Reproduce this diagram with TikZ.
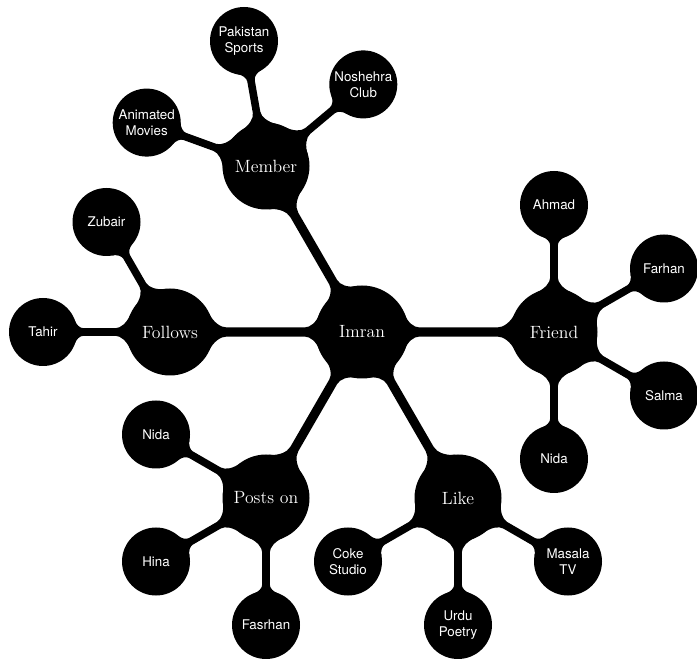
\documentclass[tikz,border=0pt]{standalone}
\usepackage{fontspec}
\newfontfamily\helv{TeX Gyre Heros}
\usetikzlibrary{calc,backgrounds}
\tikzset{
  conc/.style={circle, fill=black, text=white, inner sep=0pt, align=center},
  rootc/.style={conc, minimum size=69.75pt, font=\fontsize{13.3}{16}\selectfont},
  lonec/.style={conc, minimum size=65.25pt, font=\fontsize{13.3}{16}\selectfont},
  ltwoc/.style={conc, minimum size=51pt, font=\helv\fontsize{10}{11.8}\selectfont},
  barfill/.style={fill=black}
}
% connection bar with fillets (all lengths in pt):
% #1 from node, #2 r, #3 fillet angle, #4 fillet length; #5 to node, #6 r, #7 angle, #8 length; #9 half width
\newcommand\cbar[9]{%
  \path let \p1=(#1.center), \p2=(#5.center),
    \n1={atan2(\y2-\y1,\x2-\x1)}, \n2={veclen(\x2-\x1,\y2-\y1)} in
    \pgfextra{\xdef\cbang{\n1}\xdef\cblen{\n2}\xdef\cbx{\x1}\xdef\cby{\y1}};
  \begin{scope}[shift={(\cbx,\cby)}, rotate=\cbang, x=1pt, y=1pt]
    \pgfmathsetmacro\cbta{(#2*sin(#3)-#9)/cos(#3)}%
    \pgfmathsetmacro\cbca{0.6*\cbta}%
    \pgfmathsetmacro\cbda{0.6*(#2+#4-#2*cos(#3)-\cbta*sin(#3))}%
    \pgfmathsetmacro\cbtb{(#6*sin(#7)-#9)/cos(#7)}%
    \pgfmathsetmacro\cbcb{0.6*\cbtb}%
    \pgfmathsetmacro\cbdb{0.6*(#6+#8-#6*cos(#7)-\cbtb*sin(#7))}%
    \fill[barfill] (#3:#2) .. controls +({#3-90}:\cbca) and +(-\cbda,0) .. ({#2+#4},#9)
      -- ({\cblen-#6-#8},#9) .. controls +(\cbdb,0) and +({270-#7}:\cbcb) .. ([shift={(\cblen,0)}]{180-#7}:#6)
      -- ([shift={(\cblen,0)}]{180+#7}:#6) .. controls +({90+#7}:\cbcb) and +(\cbdb,0) .. ({\cblen-#6-#8},-#9)
      -- ({#2+#4},-#9) .. controls +(-\cbda,0) and +({90-#3}:\cbca) .. (-#3:#2) -- cycle;
  \end{scope}%
}
\newcommand\barone[2]{\cbar{#1}{34.6}{22}{8.5}{#2}{32.4}{26}{10}{3.4}}
\newcommand\bartwo[2]{\cbar{#1}{32.4}{24}{8.5}{#2}{25.3}{21}{5}{2.85}}
\begin{document}
\begin{tikzpicture}[x=0.75pt,y=-0.75pt]
\useasboundingbox (0,0) rectangle (697,659);
\node[rootc] (imran) at (362,332) {Imran};
\node[lonec] (member) at (266,166) {Member};
\node[lonec] (follows) at (170,332) {Follows};
\node[lonec] (postson) at (266,498) {Posts on};
\node[lonec] (like) at (458,498) {Like};
\node[lonec] (friend) at (554,332) {Friend};
% member children
\node[ltwoc] (animated) at (146.7,122.6) {Animated\\Movies};
\node[ltwoc] (pakistan) at (244,41) {Pakistan\\Sports};
\node[ltwoc] (noshehra) at (363.3,84.4) {Noshehra\\Club};
% friend children
\node[ltwoc] (ahmad) at (554,205) {Ahmad};
\node[ltwoc] (farhan) at (664,268.5) {Farhan};
\node[ltwoc] (salma) at (664,395.5) {Salma};
\node[ltwoc] (nidaf) at (554,459) {Nida};
% follows children
\node[ltwoc] (zubair) at (106.5,222) {Zubair};
\node[ltwoc] (tahir) at (43,332) {Tahir};
% posts on children
\node[ltwoc] (nidap) at (156,434.5) {Nida};
\node[ltwoc] (hina) at (156,561.5) {Hina};
\node[ltwoc] (fasrhan) at (266,625) {Fasrhan};
% like children
\node[ltwoc] (coke) at (348,561.5) {Coke\\Studio};
\node[ltwoc] (urdu) at (458,625) {Urdu\\Poetry};
\node[ltwoc] (masala) at (568,561.5) {Masala\\TV};
\begin{scope}[on background layer]
\barone{imran}{member}
\barone{imran}{follows}
\barone{imran}{postson}
\barone{imran}{like}
\barone{imran}{friend}
\bartwo{member}{animated}
\bartwo{member}{pakistan}
\bartwo{member}{noshehra}
\bartwo{friend}{ahmad}
\bartwo{friend}{farhan}
\bartwo{friend}{salma}
\bartwo{friend}{nidaf}
\bartwo{follows}{zubair}
\bartwo{follows}{tahir}
\bartwo{postson}{nidap}
\bartwo{postson}{hina}
\bartwo{postson}{fasrhan}
\bartwo{like}{coke}
\bartwo{like}{urdu}
\bartwo{like}{masala}
\end{scope}
\end{tikzpicture}
\end{document}
